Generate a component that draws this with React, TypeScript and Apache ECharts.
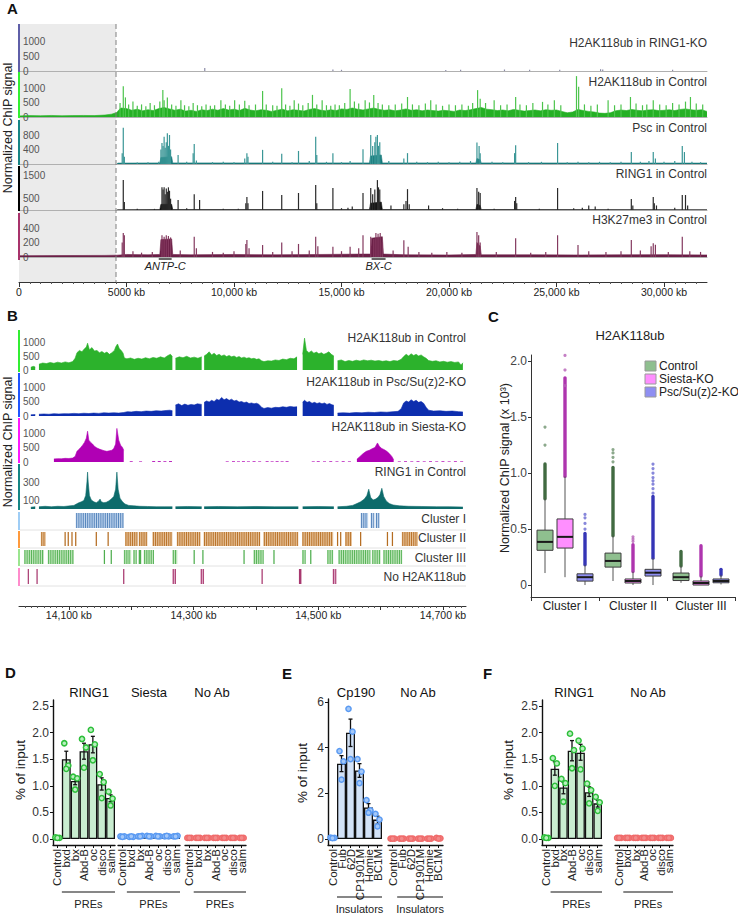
import React, { useEffect, useRef } from 'react';
import * as echarts from 'echarts';

const FONT = '"Liberation Sans", Arial, Helvetica, sans-serif';

// ================= Panel A data (kb, normalized signal) =================
const A_TICKS = [0, 5000, 10000, 15000, 20000, 25000, 30000];
const A_TICK_LABELS = ['0', '5000 kb', '10,000 kb', '15,000 kb', '20,000 kb', '25,000 kb', '30,000 kb'];
const A_TRACK_NAMES = ['H2AK118ub in RING1-KO', 'H2AK118ub in Control', 'Psc in Control', 'RING1 in Control', 'H3K27me3 in Control'];
const A_Y_TICKS = [[0, 500, 1000], [0, 500, 1000], [0, 400, 800], [0, 500, 1500], [0, 200, 400]];

const A_RING1KO_PEAKS = [[8640, 100], [14600, 50], [15000, 40], [19850, 30], [20540, 40], [22580, 50], [23750, 40], [25150, 40], [27050, 60], [27150, 50], [30400, 40]];

const A_CTRL_BG = [[0, 40], [500, 50], [1000, 45], [1500, 55], [2000, 45], [2500, 50], [3000, 55], [3500, 50], [4000, 70], [4300, 100], [4550, 160], [4650, 260], [4750, 320], [5000, 300], [5250, 240], [5500, 280], [5750, 220], [6000, 260], [6250, 230], [6500, 300], [6750, 340], [7000, 290], [7250, 240], [7500, 280], [7750, 210], [8000, 240], [8250, 200], [8500, 260], [8750, 230], [9000, 280], [9250, 240], [9500, 300], [9750, 250], [10000, 280], [10250, 230], [10500, 310], [10750, 250], [11000, 220], [11250, 260], [11500, 240], [11750, 200], [12000, 240], [12250, 280], [12500, 220], [12750, 260], [13000, 240], [13250, 210], [13500, 270], [13750, 300], [14000, 250], [14250, 220], [14500, 260], [14750, 230], [15000, 290], [15250, 270], [15500, 320], [15750, 280], [16000, 250], [16250, 290], [16500, 320], [16750, 270], [17000, 240], [17250, 260], [17500, 220], [17750, 250], [18000, 290], [18250, 240], [18500, 260], [18750, 220], [19000, 250], [19250, 230], [19500, 210], [19750, 240], [20000, 220], [20250, 200], [20500, 250], [20750, 230], [21000, 260], [21250, 300], [21500, 340], [21750, 280], [22000, 260], [22250, 230], [22500, 250], [22750, 220], [23000, 270], [23250, 240], [23500, 210], [23750, 230], [24000, 250], [24250, 220], [24500, 260], [24750, 240], [25000, 250], [25250, 200], [25500, 150], [25750, 180], [26000, 270], [26250, 230], [26500, 200], [26750, 180], [27000, 140], [27250, 130], [27500, 150], [27750, 220], [28000, 250], [28250, 230], [28500, 270], [28750, 240], [29000, 220], [29250, 250], [29500, 260], [29750, 230], [30000, 240], [30250, 260], [30500, 230], [30750, 270], [31000, 290], [31250, 260], [31500, 240], [31750, 260], [32000, 200]];
const A_CTRL_PEAKS = [[4700, 500], [4850, 1100], [4950, 700], [5100, 450], [5300, 550], [5500, 400], [5700, 450], [5900, 380], [6100, 500], [6300, 420], [6550, 550], [6690, 960], [6750, 600], [6900, 700], [7100, 450], [7300, 400], [7530, 600], [7700, 420], [7900, 380], [8100, 500], [8300, 420], [8500, 380], [8700, 450], [8900, 400], [9100, 420], [9390, 600], [9600, 450], [9800, 400], [10030, 600], [10250, 450], [10500, 580], [10700, 420], [11000, 450], [11330, 930], [11500, 450], [11800, 420], [12000, 400], [12220, 1030], [12400, 450], [12600, 400], [12800, 600], [13000, 480], [13200, 420], [13450, 500], [13650, 790], [13850, 450], [14100, 600], [14300, 420], [14500, 400], [14700, 450], [14900, 420], [15150, 500], [15400, 1000], [15600, 550], [15800, 480], [16100, 600], [16300, 520], [16500, 790], [16700, 500], [16900, 450], [17200, 420], [17500, 450], [17800, 480], [18070, 715], [18300, 450], [18600, 420], [18900, 480], [19150, 600], [19400, 450], [19700, 400], [20000, 450], [20300, 420], [20600, 450], [20900, 400], [21100, 500], [21330, 960], [21450, 650], [21700, 500], [22100, 600], [22400, 420], [22700, 450], [23100, 715], [23300, 450], [23600, 420], [23900, 500], [24350, 540], [24600, 450], [24900, 600], [25200, 420], [25930, 1460], [26030, 1080], [26300, 450], [26600, 400], [26900, 450], [27400, 600], [27700, 420], [28000, 450], [28440, 715], [28700, 480], [29000, 420], [29200, 450], [29500, 600], [29800, 450], [30100, 420], [30400, 500], [30700, 450], [31000, 550], [31230, 715], [31500, 480], [31800, 450]];

const A_PSC_BG = [[4550, 0], [4600, 25], [6550, 30], [6600, 180], [7100, 200], [7150, 30], [16300, 30], [16350, 220], [16850, 250], [16900, 30], [21250, 30], [21300, 150], [21450, 120], [21500, 30], [32000, 25]];
const A_PSC_PEAKS = [[4800, 300], [4850, 1000], [4900, 200], [5500, 40], [6000, 50], [6500, 60], [6600, 400], [6650, 580], [6700, 500], [6750, 750], [6800, 450], [6850, 600], [6900, 850], [6950, 500], [7000, 800], [7050, 400], [7400, 250], [7800, 60], [8100, 300], [8150, 550], [8250, 100], [9000, 50], [9500, 60], [10000, 50], [10500, 150], [10600, 300], [10650, 200], [11330, 390], [11800, 60], [12220, 280], [12700, 50], [13000, 360], [13500, 80], [13800, 750], [13850, 250], [14300, 60], [14600, 300], [15000, 50], [15400, 80], [16000, 410], [16360, 800], [16450, 500], [16550, 600], [16600, 750], [16670, 800], [16720, 500], [16780, 600], [17200, 80], [17900, 150], [18070, 300], [18500, 60], [19000, 50], [19500, 60], [20000, 50], [20500, 60], [21000, 80], [21300, 590], [21400, 500], [21450, 300], [22000, 60], [22500, 50], [23050, 300], [23100, 520], [23700, 50], [24300, 60], [25050, 580], [25500, 50], [26000, 60], [26500, 50], [27000, 60], [27500, 50], [28000, 60], [28480, 330], [28900, 60], [29300, 80], [29500, 330], [29600, 150], [30000, 60], [30500, 80], [30850, 500], [30950, 330], [31300, 60], [31700, 50]];

const A_RING1_BG = [[4550, 0], [4600, 15], [6550, 20], [6600, 250], [7100, 250], [7150, 20], [16300, 20], [16350, 300], [16850, 350], [16900, 20], [21250, 20], [21300, 250], [21450, 200], [21500, 20], [32000, 15]];
const A_RING1_PEAKS = [[4850, 1320], [4900, 350], [5500, 60], [6300, 50], [6650, 1000], [6700, 900], [6750, 1000], [6800, 700], [6850, 950], [6900, 800], [6950, 1000], [7000, 850], [7050, 500], [7400, 440], [7800, 80], [8150, 700], [8400, 440], [9500, 60], [10200, 60], [10550, 300], [10600, 570], [10650, 300], [11330, 840], [12220, 660], [13000, 750], [13800, 1100], [13850, 300], [14600, 970], [15000, 80], [15300, 100], [15500, 150], [16000, 750], [16360, 970], [16450, 700], [16550, 900], [16670, 1320], [16720, 1000], [16780, 900], [17300, 200], [17900, 250], [18000, 400], [18070, 920], [18150, 250], [19050, 200], [19700, 80], [20400, 60], [21300, 970], [21380, 800], [21450, 750], [22100, 60], [23050, 400], [23100, 570], [23150, 300], [24200, 60], [25050, 970], [25800, 80], [26200, 100], [26500, 200], [26800, 150], [27400, 60], [28480, 480], [28550, 200], [29500, 570], [29550, 300], [29650, 200], [30500, 100], [30850, 660], [31000, 660], [31100, 200]];

const A_K27_BG = [[0, 18], [2000, 20], [4000, 22], [4550, 25], [5000, 35], [6000, 30], [6550, 35], [6600, 240], [7100, 250], [7150, 35], [8000, 30], [10000, 35], [12000, 30], [14000, 35], [16000, 40], [16350, 40], [16400, 260], [16900, 280], [16950, 40], [18000, 30], [20000, 28], [21250, 35], [21300, 200], [21450, 150], [21500, 30], [24000, 30], [26000, 28], [28000, 30], [30000, 32], [32000, 28]];
const A_K27_PEAKS = [[4800, 200], [4850, 330], [4900, 300], [5300, 80], [5700, 60], [6200, 70], [6650, 300], [6750, 280], [6850, 300], [6950, 290], [7050, 270], [7500, 90], [8150, 280], [8250, 120], [9000, 70], [9500, 60], [10000, 80], [10550, 180], [10600, 235], [10700, 120], [11330, 165], [11800, 70], [12220, 200], [12700, 80], [13000, 180], [13500, 90], [13800, 280], [13900, 150], [14600, 140], [15000, 80], [15400, 140], [15800, 120], [16000, 300], [16360, 280], [16500, 250], [16600, 330], [16700, 320], [16800, 330], [16900, 200], [17400, 90], [17900, 230], [18100, 140], [18600, 70], [19200, 60], [19900, 70], [20600, 60], [21300, 345], [21380, 300], [21450, 200], [22200, 70], [23100, 260], [23800, 60], [24500, 70], [25050, 300], [26000, 165], [26500, 80], [27300, 70], [28000, 80], [28480, 235], [28900, 90], [29400, 150], [29500, 190], [29600, 170], [30200, 70], [30850, 280], [31200, 80], [31700, 70]];

const A_LOCI = [{ name: 'ANTP-C', from: 6500, to: 7100 }, { name: 'BX-C', from: 16400, to: 17050 }];

// ================= Panel B data =================
const B_TICKS = [14100, 14200, 14300, 14400, 14500, 14600, 14700];
const B_LABEL_TICKS = [14100, 14300, 14500, 14700];
const B_TRACK_NAMES = ['H2AK118ub in Control', 'H2AK118ub in Psc/Su(z)2-KO', 'H2AK118ub in Siesta-KO', 'RING1 in Control'];
const B_ROW_NAMES = ['Cluster I', 'Cluster II', 'Cluster III', 'No H2AK118ub'];
const B_Y_TICKS = [[0, 500, 1000], [0, 500, 1000], [0, 500, 1000], [0, 100, 300]];

const B_CTRL = [[14039, 100], [14043, 130], [14046, 110], [14047, null], [14052, 210], [14058, 250], [14064, 230], [14070, 270], [14076, 240], [14082, 280], [14088, 250], [14094, 290], [14100, 260], [14106, 300], [14110, 420], [14113, 620], [14117, 700], [14121, 650], [14125, 760], [14128, 820], [14130, 960], [14133, 720], [14137, 800], [14141, 680], [14145, 700], [14149, 620], [14153, 660], [14157, 600], [14161, 640], [14165, 560], [14169, 620], [14173, 700], [14175, 820], [14178, 930], [14181, 760], [14184, 700], [14187, 600], [14189, 430], [14193, 400], [14199, 430], [14205, 380], [14211, 420], [14217, 390], [14223, 440], [14229, 400], [14235, 450], [14241, 420], [14247, 470], [14253, 430], [14259, 520], [14263, 560], [14266, 480], [14267, null], [14271, 420], [14277, 470], [14283, 440], [14289, 490], [14295, 430], [14301, 460], [14307, 420], [14313, 470], [14314, null], [14317, 500], [14321, 560], [14325, 650], [14329, 540], [14333, 600], [14337, 520], [14341, 560], [14345, 500], [14349, 540], [14353, 480], [14357, 520], [14361, 470], [14365, 500], [14369, 450], [14373, 480], [14377, 430], [14381, 460], [14385, 420], [14389, 440], [14393, 400], [14397, 420], [14401, 380], [14405, 400], [14409, 330], [14413, 300], [14419, 330], [14425, 320], [14431, 360], [14437, 340], [14443, 390], [14449, 370], [14455, 420], [14461, 400], [14466, 470], [14469, null], [14475, 560], [14478, 1140], [14481, 700], [14485, 620], [14489, 680], [14493, 600], [14497, 640], [14501, 580], [14505, 620], [14509, 560], [14513, 600], [14517, 650], [14521, 560], [14525, 500], [14527, null], [14531, 330], [14537, 360], [14543, 300], [14549, 340], [14555, 310], [14561, 350], [14567, 320], [14573, 360], [14579, 330], [14585, 350], [14591, 320], [14597, 340], [14603, 310], [14609, 330], [14615, 300], [14621, 340], [14627, 320], [14633, 380], [14637, 480], [14641, 560], [14645, 500], [14649, 580], [14653, 520], [14657, 560], [14661, 500], [14665, 540], [14669, 470], [14673, 420], [14677, 340], [14683, 310], [14689, 330], [14695, 290], [14701, 310], [14707, 280], [14713, 300], [14719, 270], [14725, 290], [14729, 180], [14732, 260]];

const B_PSCKO = [[14039, 40], [14046, 50], [14047, null], [14052, 60], [14060, 70], [14068, 60], [14076, 80], [14084, 70], [14092, 80], [14100, 75], [14108, 90], [14116, 80], [14124, 95], [14132, 85], [14140, 100], [14148, 90], [14156, 110], [14164, 100], [14172, 110], [14180, 100], [14188, 120], [14194, 150], [14200, 140], [14208, 160], [14216, 150], [14224, 170], [14232, 160], [14240, 180], [14248, 170], [14256, 190], [14262, 200], [14266, 180], [14267, null], [14271, 380], [14276, 420], [14281, 360], [14286, 410], [14291, 370], [14296, 400], [14301, 380], [14306, 420], [14313, 400], [14314, null], [14317, 470], [14321, 520], [14325, 480], [14329, 540], [14333, 500], [14337, 580], [14341, 540], [14345, 640], [14349, 560], [14353, 600], [14357, 540], [14361, 580], [14365, 520], [14369, 540], [14373, 480], [14377, 500], [14381, 460], [14385, 480], [14389, 430], [14393, 450], [14397, 420], [14401, 440], [14405, 400], [14409, 300], [14413, 260], [14419, 290], [14425, 270], [14431, 300], [14437, 290], [14443, 320], [14449, 300], [14455, 330], [14461, 310], [14466, 320], [14469, null], [14475, 480], [14478, 540], [14482, 470], [14486, 500], [14490, 440], [14494, 470], [14498, 430], [14502, 460], [14506, 420], [14510, 450], [14514, 400], [14518, 430], [14522, 390], [14525, 370], [14527, null], [14531, 100], [14540, 110], [14550, 100], [14560, 120], [14570, 110], [14580, 130], [14590, 120], [14600, 140], [14610, 130], [14620, 150], [14628, 160], [14633, 250], [14637, 450], [14641, 520], [14645, 480], [14649, 560], [14653, 500], [14657, 540], [14661, 470], [14665, 500], [14669, 440], [14673, 300], [14677, 200], [14685, 170], [14695, 180], [14705, 160], [14715, 170], [14725, 150], [14732, 140]];

const B_SIESTA = [[14076, 110], [14082, 120], [14088, 115], [14094, 130], [14100, 125], [14106, 140], [14110, 200], [14113, 380], [14116, 450], [14119, 520], [14122, 600], [14125, 700], [14128, 850], [14130, 1100], [14132, 780], [14135, 700], [14138, 640], [14141, 560], [14145, 500], [14149, 460], [14153, 430], [14157, 400], [14161, 380], [14165, 400], [14169, 420], [14172, 480], [14175, 640], [14177, 1200], [14180, 780], [14183, 600], [14186, 520], [14188, 420], [14189, null], [14562, 100], [14567, 200], [14572, 300], [14577, 380], [14582, 420], [14587, 480], [14591, 520], [14595, 680], [14598, 560], [14602, 480], [14606, 440], [14610, 380], [14614, 300], [14618, 200], [14621, 80], [14622, null]];
const B_SIESTA_DOTS = [[14200, 25], [14215, 20], [14236, 30], [14245, 30], [14254, 25], [14263, 30], [14354, 20], [14364, 25], [14372, 20], [14380, 25], [14388, 20], [14397, 25], [14406, 20], [14418, 25], [14426, 20], [14434, 25], [14442, 20], [14450, 25], [14492, 20], [14500, 25], [14510, 20], [14520, 25], [14530, 20], [14540, 25], [14550, 20], [14630, 20], [14640, 25], [14650, 20], [14660, 25], [14670, 20], [14680, 25], [14690, 20], [14700, 25], [14710, 20], [14720, 25], [14730, 20]];

const B_RING1 = [[14039, 20], [14046, 25], [14047, null], [14052, 25], [14062, 30], [14072, 25], [14082, 30], [14092, 28], [14102, 35], [14108, 40], [14112, 55], [14116, 70], [14120, 80], [14124, 95], [14127, 150], [14129, 300], [14130, 410], [14131, 300], [14133, 150], [14136, 100], [14140, 80], [14144, 70], [14148, 90], [14150, 110], [14152, 80], [14156, 70], [14160, 75], [14164, 90], [14168, 110], [14172, 140], [14175, 220], [14177, 410], [14179, 220], [14182, 120], [14186, 80], [14190, 55], [14196, 40], [14204, 35], [14214, 30], [14226, 28], [14240, 25], [14254, 25], [14266, 25], [14267, null], [14271, 25], [14290, 28], [14313, 25], [14314, null], [14317, 25], [14340, 28], [14370, 25], [14400, 28], [14430, 25], [14468, 25], [14469, null], [14475, 25], [14500, 28], [14525, 25], [14527, null], [14531, 25], [14545, 30], [14555, 40], [14562, 60], [14568, 80], [14574, 110], [14578, 150], [14581, 220], [14584, 130], [14588, 100], [14592, 110], [14596, 130], [14599, 160], [14602, 230], [14605, 140], [14609, 90], [14614, 60], [14620, 45], [14630, 35], [14645, 30], [14665, 28], [14690, 25], [14710, 25], [14732, 22]];

const B_CLUSTER1 = [[14111, 14188], [14568, 14580], [14584, 14589], [14592, 14598]];
const B_CLUSTER2 = [[14055, 14063], [14093, 14095], [14098, 14100], [14104, 14106], [14110, 14112], [14143, 14145], [14162, 14164], [14190, 14210], [14212, 14226], [14234, 14266], [14273, 14311], [14316, 14407], [14412, 14468], [14474, 14524], [14530, 14532], [14535, 14537], [14543, 14554], [14567, 14569], [14610, 14612], [14618, 14620], [14634, 14660]];
const B_CLUSTER3 = [[14028, 14060], [14066, 14108], [14156, 14158], [14167, 14169], [14188, 14200], [14203, 14208], [14212, 14216], [14220, 14236], [14266, 14274], [14300, 14302], [14314, 14316], [14380, 14382], [14396, 14412], [14428, 14430], [14474, 14479], [14487, 14489], [14514, 14524], [14532, 14583], [14586, 14600], [14604, 14634]];
const B_NOH2A = [[14034, 14035.5], [14048, 14050], [14187, 14189], [14266, 14271], [14311, 14316], [14409, 14411], [14469, 14473], [14523, 14529]];

// ================= Panel C data (x 10^3) =================
const C_CATEGORIES = ['Cluster I', 'Cluster II', 'Cluster III'];
const C_GROUPS = ['Control', 'Siesta-KO', 'Psc/Su(z)2-KO'];
// [whisker low, Q1, median, Q3, whisker high]
const C_CONTROL = [[0.107, 0.31, 0.385, 0.49, 0.77], [0.036, 0.16, 0.215, 0.285, 0.44], [0.02, 0.04, 0.07, 0.107, 0.17]];
const C_SIESTA = [[0.07, 0.33, 0.43, 0.59, 0.97], [0.0, 0.018, 0.036, 0.054, 0.12], [0.0, 0.0, 0.018, 0.036, 0.08]];
const C_PSC = [[0.0, 0.035, 0.07, 0.10, 0.18], [0.0, 0.08, 0.11, 0.14, 0.24], [0.005, 0.02, 0.036, 0.054, 0.09]];
const C_CONTROL_OUT_RANGE = [[0.77, 1.08], [0.44, 1.05], [0.17, 0.30]];
const C_SIESTA_OUT_RANGE = [[0.97, 1.85], [0.12, 0.36], [0.08, 0.35]];
const C_PSC_OUT_RANGE = [[0.18, 0.46], [0.24, 0.79], [0.09, 0.14]];
const C_CONTROL_OUT = [[1.25, 1.41], [1.1, 1.14, 1.18, 1.21], []];
const C_SIESTA_OUT = [[1.78, 1.92, 2.05], [0.39, 0.41, 0.43], []];
const C_PSC_OUT = [[0.5, 0.55, 0.6, 0.63], [0.82, 0.86, 0.9, 0.93, 0.96, 1.0, 1.04, 1.08], []];
const C_Y_TICKS = [0, 0.5, 1.0, 1.5, 2.0];

// ================= Panels D / E / F data (% of input) =================
const PRE_CATS = ['Control', 'bxd', 'bx', 'Abd-B', 'oc', 'disco', 'salm'];
const INS_CATS = ['Control', 'Fub', '62D', 'CP1901M', 'Homie', 'BC1M'];
const PCT_TICKS = [0, 0.5, 1.0, 1.5, 2.0, 2.5];
const E_TICKS = [0, 2, 4, 6];

const D_RING1_MEAN = [0.02, 1.50, 1.09, 1.65, 1.78, 1.03, 0.77];
const D_RING1_LO = [0.02, 1.36, 1.02, 1.50, 1.62, 0.92, 0.70];
const D_RING1_HI = [0.02, 1.65, 1.15, 1.80, 1.93, 1.15, 0.83];
const D_RING1_DOTS = [[0.03, 0.02, 0.02], [1.80, 1.38, 1.32], [1.17, 1.14, 0.93], [1.88, 1.72, 1.34], [2.05, 1.78, 1.48], [1.22, 1.07, 0.77], [0.89, 0.76, 0.63]];
const D_SIESTA_MEAN = [0.04, 0.04, 0.05, 0.05, 0.05, 0.05, 0.05];
const D_SIESTA_DOTS = [[0.05, 0.05, 0.04], [0.04, 0.04, 0.05], [0.05, 0.06, 0.05], [0.06, 0.05, 0.05], [0.06, 0.05, 0.05], [0.05, 0.05, 0.06], [0.05, 0.06, 0.05]];
const D_NOAB_MEAN = [0.01, 0.01, 0.01, 0.01, 0.01, 0.01, 0.01];
const D_NOAB_DOTS = [[0.02, 0.02, 0.02], [0.02, 0.02, 0.02], [0.02, 0.02, 0.02], [0.02, 0.02, 0.02], [0.02, 0.02, 0.02], [0.02, 0.02, 0.02], [0.02, 0.02, 0.02]];

const E_CP190_MEAN = [0.05, 3.30, 4.65, 3.00, 1.38, 0.85];
const E_CP190_LO = [0.05, 2.95, 4.05, 2.70, 1.20, 0.65];
const E_CP190_HI = [0.05, 3.65, 5.25, 3.30, 1.55, 1.00];
const E_CP190_DOTS = [[0.06, 0.05, 0.04], [3.85, 3.40, 2.60], [5.70, 4.70, 3.50], [3.50, 2.95, 2.45], [1.70, 1.25, 1.15], [1.10, 0.85, 0.55]];
const E_NOAB_MEAN = [0.02, 0.02, 0.02, 0.02, 0.02, 0.02];
const E_NOAB_DOTS = [[0.02, 0.02, 0.02], [0.02, 0.02, 0.02], [0.02, 0.02, 0.02], [0.02, 0.02, 0.02], [0.02, 0.02, 0.02], [0.05, 0.03, 0.02]];

const F_RING1_MEAN = [0.02, 1.32, 0.97, 1.66, 1.62, 0.88, 0.67];
const F_RING1_LO = [0.02, 1.20, 0.85, 1.47, 1.48, 0.80, 0.60];
const F_RING1_HI = [0.02, 1.45, 1.07, 1.85, 1.78, 0.98, 0.73];
const F_RING1_DOTS = [[0.03, 0.02, 0.02], [1.52, 1.42, 1.00], [1.13, 1.05, 0.70], [1.98, 1.67, 1.33], [1.85, 1.70, 1.31], [1.04, 0.92, 0.67], [0.79, 0.69, 0.53]];
const F_NOAB_MEAN = [0.01, 0.01, 0.01, 0.01, 0.01, 0.01, 0.01];
const F_NOAB_DOTS = [[0.02, 0.02, 0.02], [0.02, 0.02, 0.02], [0.02, 0.02, 0.02], [0.02, 0.02, 0.02], [0.02, 0.02, 0.02], [0.02, 0.02, 0.02], [0.02, 0.02, 0.02]];

// ================= helpers =================
function txt(x: number, y: number, text: string, o: any = {}) {
  const align = o.align || 'left';
  return {
    type: 'text', x, y, z: 50, rotation: o.rotation || 0,
    style: {
      text, fontFamily: FONT, fontSize: o.size || 12, fontWeight: o.weight || 'normal', fontStyle: o.italic ? 'italic' : 'normal',
      fill: o.color || '#222', align, verticalAlign: 'middle', textAlign: align, textVerticalAlign: 'middle',
    },
  };
}
function rect(x: number, y: number, w: number, h: number, fill: string, z = 40, stroke?: string) {
  return { type: 'rect', z, shape: { x, y, width: w, height: h }, style: { fill, stroke: stroke || null, lineWidth: stroke ? 1 : 0 } };
}
function hline(x1: number, x2: number, y: number, color: string, w = 1, dash?: number[], z = 40) {
  return { type: 'line', z, shape: { x1, y1: y, x2, y2: y }, style: { stroke: color, lineWidth: w, lineDash: dash || null } };
}
function vline(x: number, y1: number, y2: number, color: string, w = 1, dash?: number[], z = 40) {
  return { type: 'line', z, shape: { x1: x, y1, x2: x, y2 }, style: { stroke: color, lineWidth: w, lineDash: dash || null } };
}
const plain = (v: number) => String(v);

function buildOption() {
  const grid: any[] = []; const xAxis: any[] = []; const yAxis: any[] = []; const series: any[] = []; const graphic: any[] = [];
  const addGrid = (left: number, top: number, width: number, height: number) => { grid.push({ left, top, width, height }); return grid.length - 1; };
  const addX = (o: any) => { xAxis.push(o); return xAxis.length - 1; };
  const addY = (o: any) => { yAxis.push(o); return yAxis.length - 1; };
  const hiddenY = (gi: number, min = 0, max = 1) => addY({ gridIndex: gi, type: 'value', min, max, show: false });

  // ---------- Panel A ----------
  const AL = 19, AW = 688, AMAX = 32000;
  const A_LAYOUT = [
    { top: 24, base: 71, max: 1567, barBot: 72, bar: '#5f5fa8', labelY: 43 },
    { top: 72, base: 117, max: 1607, barBot: 118, bar: '#33f033', labelY: 82 },
    { top: 120, base: 164, max: 1214, barBot: 165, bar: '#168585', labelY: 128 },
    { top: 166, base: 210, max: 1941, barBot: 211, bar: '#000000', labelY: 174 },
    { top: 213, base: 257, max: 607, barBot: 260, bar: '#a8336b', labelY: 220 },
  ];
  const A_DATA = [
    { bg: null, peaks: A_RING1KO_PEAKS, c: '#9a9ab0', pc: '#8c8ca8' },
    { bg: A_CTRL_BG, peaks: A_CTRL_PEAKS, c: '#25b025', pc: '#4cc44c' },
    { bg: A_PSC_BG, peaks: A_PSC_PEAKS, c: '#16797a', pc: '#3a9696' },
    { bg: A_RING1_BG, peaks: A_RING1_PEAKS, c: '#111111', pc: '#2a2a2a' },
    { bg: A_K27_BG, peaks: A_K27_PEAKS, c: '#6b1f47', pc: '#84395f' },
  ];
  graphic.push(rect(AL, 24, 116 - AL, 282 - 24, '#ebebeb', 0));
  graphic.push(vline(116, 24, 282, '#808080', 1, [5, 3], 45));
  A_LAYOUT.forEach((L, i) => {
    const gi = addGrid(AL, L.top, AW, L.base - L.top);
    const xi = addX({ gridIndex: gi, type: 'value', min: 0, max: AMAX, axisLine: { show: true, lineStyle: { color: '#b0b0b0', width: 1 } }, axisTick: { show: false }, axisLabel: { show: false }, splitLine: { show: false } });
    const yi = addY({ gridIndex: gi, type: 'value', min: 0, max: L.max, axisLine: { show: false }, axisTick: { show: false }, splitLine: { show: false }, axisLabel: { inside: true, margin: 4, fontSize: 10, color: '#555', fontFamily: FONT, customValues: A_Y_TICKS[i], formatter: plain } });
    const D = A_DATA[i];
    if (D.bg) series.push({ type: 'line', xAxisIndex: xi, yAxisIndex: yi, data: D.bg, symbol: 'none', showSymbol: false, lineStyle: { width: 0.6, color: D.c }, areaStyle: { color: D.c, opacity: 1 }, silent: true, z: 3 });
    series.push({ type: 'bar', xAxisIndex: xi, yAxisIndex: yi, data: D.peaks, barWidth: 1.2, itemStyle: { color: D.pc }, silent: true, z: 4 });
    graphic.push(rect(18, L.top, 2, L.barBot - L.top, L.bar, 45));
    graphic.push(txt(707, L.labelY, A_TRACK_NAMES[i], { align: 'right', size: 12, color: '#333' }));
  });
  {
    const gi = addGrid(AL, 262, AW, 20);
    addX({ gridIndex: gi, type: 'value', position: 'bottom', min: 0, max: AMAX, axisLine: { show: true, onZero: false, lineStyle: { color: '#333', width: 1 } }, axisTick: { show: true, length: 5, customValues: A_TICKS, lineStyle: { color: '#333' } }, axisLabel: { show: true, fontSize: 10.5, margin: 4, color: '#222', fontFamily: FONT, customValues: A_TICKS, formatter: (v: number) => A_TICK_LABELS[A_TICKS.indexOf(v)] ?? '' }, splitLine: { show: false } });
    const minor: number[] = []; for (let v = 500; v < AMAX; v += 500) if (v % 5000 !== 0) minor.push(v);
    addX({ gridIndex: gi, type: 'value', position: 'bottom', min: 0, max: AMAX, axisLine: { show: false, onZero: false }, axisTick: { show: true, length: 2, customValues: minor, lineStyle: { color: '#555' } }, axisLabel: { show: false }, splitLine: { show: false } });
    hiddenY(gi);
  }
  A_LOCI.forEach((l) => {
    const x1 = AL + (l.from / AMAX) * AW, x2 = AL + (l.to / AMAX) * AW;
    graphic.push(hline(x1, x2, 259, '#111', 1.3));
    graphic.push(txt((x1 + x2) / 2, 266, l.name, { align: 'center', size: 11, italic: true, color: '#222' }));
  });
  graphic.push(txt(7, 8, 'A', { weight: 'bold', size: 15, color: '#111' }));
  graphic.push(txt(8, 128, 'Normalized ChIP signal', { align: 'center', size: 12.5, rotation: Math.PI / 2, color: '#222' }));

  // ---------- Panel B ----------
  const BL = 19, BW = 447, BMIN = 14020, BMAX = 14737;
  const B_LAYOUT = [
    { top: 330, base: 370, max: 1430, barBot: 372, bar: '#33ee33', labelY: 338, c: '#2cb22c' },
    { top: 373, base: 416, max: 1483, barBot: 417, bar: '#1f55ff', labelY: 382, c: '#0d2eae' },
    { top: 418, base: 462, max: 1571, barBot: 463, bar: '#ff19ff', labelY: 427, c: '#b000b4' },
    { top: 464, base: 509, max: 500, barBot: 510, bar: '#148585', labelY: 472, c: '#0d6b6b' },
  ];
  const B_DATA = [B_CTRL, B_PSCKO, B_SIESTA, B_RING1];
  B_LAYOUT.forEach((L, i) => {
    const gi = addGrid(BL, L.top, BW, L.base - L.top);
    const xi = addX({ gridIndex: gi, type: 'value', min: BMIN, max: BMAX, show: false });
    const yi = addY({ gridIndex: gi, type: 'value', min: 0, max: L.max, axisLine: { show: false }, axisTick: { show: false }, splitLine: { show: false }, axisLabel: { inside: true, margin: 4, fontSize: 10, color: '#555', fontFamily: FONT, customValues: B_Y_TICKS[i], formatter: plain } });
    series.push({ type: 'line', xAxisIndex: xi, yAxisIndex: yi, data: B_DATA[i], symbol: 'none', showSymbol: false, connectNulls: false, lineStyle: { width: 0.6, color: L.c }, areaStyle: { color: L.c, opacity: 1 }, silent: true, z: 3 });
    if (i === 2) series.push({ type: 'bar', xAxisIndex: xi, yAxisIndex: yi, data: B_SIESTA_DOTS, barWidth: 3, itemStyle: { color: L.c }, silent: true, z: 3 });
    graphic.push(rect(18, L.top, 2, L.barBot - L.top, L.bar, 45));
    graphic.push(txt(466, L.labelY, B_TRACK_NAMES[i], { align: 'right', size: 12, color: '#333' }));
  });
  const B_ROWS = [
    { top: 512, bot: 530, bar: '#9fcdf5', dark: '#4f7fb8', light: '#bcd2ec', labelY: 519, data: B_CLUSTER1 },
    { top: 531, bot: 548, bar: '#ff9a3c', dark: '#b56d22', light: '#e6c096', labelY: 538, data: B_CLUSTER2 },
    { top: 549, bot: 566, bar: '#9be58f', dark: '#4fae4f', light: '#bfe6bb', labelY: 558, data: B_CLUSTER3 },
    { top: 568, bot: 586, bar: '#ff8ccc', dark: '#a8386f', light: '#dca3c1', labelY: 577, data: B_NOH2A },
  ];
  B_ROWS.forEach((R, i) => {
    const gi = addGrid(BL, R.top, BW, R.bot - R.top);
    const xi = addX({ gridIndex: gi, type: 'value', min: BMIN, max: BMAX, show: false });
    const yi = hiddenY(gi);
    series.push({
      type: 'custom', xAxisIndex: xi, yAxisIndex: yi, data: R.data, silent: true, z: 3,
      renderItem: (params: any, api: any) => {
        const cs = params.coordSys;
        const a = api.coord([api.value(0), 0]);
        const b = api.coord([api.value(1), 0]);
        const x0 = a[0]; const w = Math.max(1.2, b[0] - a[0]);
        const y = cs.y + 1; const h = cs.height - 3;
        const children: any[] = [{ type: 'rect', shape: { x: x0, y, width: w, height: h }, style: { fill: w > 3 ? R.light : R.dark } }];
        if (w > 3) for (let xx = x0 + 0.5; xx < x0 + w - 0.4; xx += 2.2) children.push({ type: 'rect', shape: { x: xx, y, width: 0.9, height: h }, style: { fill: R.dark } });
        return { type: 'group', children };
      },
    });
    graphic.push(rect(18, R.top, 2, R.bot - R.top, R.bar, 45));
    graphic.push(hline(20, 466, R.bot, '#e2e2e2', 1, undefined, 1));
    graphic.push(txt(466, R.labelY, B_ROW_NAMES[i], { align: 'right', size: 12, color: '#333' }));
  });
  {
    const gi = addGrid(BL, 586, BW, 20);
    addX({ gridIndex: gi, type: 'value', position: 'bottom', min: BMIN, max: BMAX, axisLine: { show: true, onZero: false, lineStyle: { color: '#333', width: 1 } }, axisTick: { show: true, length: 4, customValues: B_TICKS, lineStyle: { color: '#333' } }, axisLabel: { show: true, fontSize: 10.5, margin: 3, color: '#222', fontFamily: FONT, customValues: B_LABEL_TICKS, formatter: (v: number) => v.toLocaleString('en-US') + ' kb' }, splitLine: { show: false } });
    const minor: number[] = []; for (let v = 14030; v < BMAX; v += 10) if (v % 100 !== 0) minor.push(v);
    addX({ gridIndex: gi, type: 'value', position: 'bottom', min: BMIN, max: BMAX, axisLine: { show: false, onZero: false }, axisTick: { show: true, length: 2, customValues: minor, lineStyle: { color: '#555' } }, axisLabel: { show: false }, splitLine: { show: false } });
    hiddenY(gi);
  }
  graphic.push(txt(7, 315, 'B', { weight: 'bold', size: 15, color: '#111' }));
  graphic.push(txt(8, 442, 'Normalized ChIP signal', { align: 'center', size: 12.5, rotation: Math.PI / 2, color: '#222' }));

  // ---------- Panel C ----------
  {
    const gi = addGrid(531, 355, 204, 242);
    const xi = addX({ gridIndex: gi, type: 'category', data: C_CATEGORIES, boundaryGap: true, axisLine: { show: true, onZero: false, lineStyle: { color: '#333', width: 1 } }, axisTick: { show: true, length: 4, lineStyle: { color: '#333' } }, axisLabel: { fontSize: 12, margin: 3, color: '#222', fontFamily: FONT } });
    const yi = addY({ gridIndex: gi, type: 'value', min: -0.107, max: 2.054, axisLine: { show: true, onZero: false, lineStyle: { color: '#333', width: 1 } }, axisTick: { show: true, length: 3, customValues: C_Y_TICKS, lineStyle: { color: '#333' } }, splitLine: { show: false }, axisLabel: { fontSize: 12, margin: 4, color: '#444', fontFamily: FONT, customValues: C_Y_TICKS, formatter: (v: number) => (v === 0 ? '0' : v.toFixed(1)) } });
    const groups = [
      { box: C_CONTROL, range: C_CONTROL_OUT_RANGE, pts: C_CONTROL_OUT, off: -20, fill: '#8fbf8f', out: '#2c5a2c', sparse: '#6f946f' },
      { box: C_SIESTA, range: C_SIESTA_OUT_RANGE, pts: C_SIESTA_OUT, off: 0, fill: '#ff8fff', out: '#a51fa5', sparse: '#b760b7' },
      { box: C_PSC, range: C_PSC_OUT_RANGE, pts: C_PSC_OUT, off: 20, fill: '#8f8ff2', out: '#1f1fae', sparse: '#6a6ad2' },
    ];
    groups.forEach((g) => {
      series.push({
        type: 'custom', xAxisIndex: xi, yAxisIndex: yi, silent: true, z: 3,
        data: g.range.map((r, ci) => [ci, r[0], r[1]]),
        renderItem: (params: any, api: any) => {
          const a = api.coord([api.value(0), api.value(1)]);
          const b = api.coord([api.value(0), api.value(2)]);
          const x = a[0] + g.off;
          return { type: 'line', shape: { x1: x, y1: a[1], x2: x, y2: b[1] }, style: { stroke: g.out, lineWidth: 3.4, lineCap: 'round', opacity: 0.9 } };
        },
      });
      series.push({
        type: 'custom', xAxisIndex: xi, yAxisIndex: yi, silent: true, z: 3,
        data: g.pts.flatMap((arr, ci) => arr.map((v) => [ci, v])),
        renderItem: (params: any, api: any) => {
          const p = api.coord([api.value(0), api.value(1)]);
          return { type: 'circle', shape: { cx: p[0] + g.off, cy: p[1], r: 1.6 }, style: { fill: g.sparse, opacity: 0.8 } };
        },
      });
      series.push({
        type: 'custom', xAxisIndex: xi, yAxisIndex: yi, silent: true, z: 4,
        data: g.box.map((b, ci) => [ci, ...b]),
        renderItem: (params: any, api: any) => {
          const c = api.value(0);
          const lo = api.coord([c, api.value(1)]);
          const q1 = api.coord([c, api.value(2)]);
          const md = api.coord([c, api.value(3)]);
          const q3 = api.coord([c, api.value(4)]);
          const hi = api.coord([c, api.value(5)]);
          const x = lo[0] + g.off; const w = 16;
          return {
            type: 'group', children: [
              { type: 'line', shape: { x1: x, y1: hi[1], x2: x, y2: q3[1] }, style: { stroke: '#555', lineWidth: 1 } },
              { type: 'line', shape: { x1: x, y1: q1[1], x2: x, y2: lo[1] }, style: { stroke: '#555', lineWidth: 1 } },
              { type: 'rect', shape: { x: x - w / 2, y: q3[1], width: w, height: Math.max(2, q1[1] - q3[1]) }, style: { fill: g.fill, stroke: '#3d3d3d', lineWidth: 1 } },
              { type: 'line', shape: { x1: x - w / 2, y1: md[1], x2: x + w / 2, y2: md[1] }, style: { stroke: '#1a1a1a', lineWidth: 2 } },
            ],
          };
        },
      });
    });
    graphic.push(txt(488, 316, 'C', { weight: 'bold', size: 15, color: '#111' }));
    graphic.push(txt(630, 335, 'H2AK118ub', { align: 'center', size: 13, color: '#222' }));
    graphic.push(txt(505, 468, 'Normalized ChIP signal (x 10³)', { align: 'center', size: 12.5, rotation: Math.PI / 2, color: '#222' }));
    const legFill = ['#8fbf8f', '#ff8fff', '#8f8ff2'];
    C_GROUPS.forEach((n, i) => {
      graphic.push(rect(645, 361 + i * 13, 11, 10, legFill[i], 45, '#9a9a9a'));
      graphic.push(txt(659, 366 + i * 13, n, { size: 12, color: '#222' }));
    });
  }

  // ---------- Panels D / E / F ----------
  const GREEN = { stroke: '#2dbf3a', fill: '#b9efbf' };
  const BLUE = { stroke: '#5a9af2', fill: '#a4c8f8' };
  const RED = { stroke: '#f06b6b', fill: '#f28a8a' };
  const facets = [
    { left: 53, top: 700, width: 62, cats: PRE_CATS, mean: D_RING1_MEAN, lo: D_RING1_LO, hi: D_RING1_HI, dots: D_RING1_DOTS, fill: '#c9edd0', dc: GREEN, yMin: -0.113, yMax: 2.613, ticks: PCT_TICKS, dec: 1, showY: true, title: 'RING1', tx: 89, br: 'PREs', brY: 892 },
    { left: 118, top: 700, width: 62, cats: PRE_CATS, mean: D_SIESTA_MEAN, lo: null, hi: null, dots: D_SIESTA_DOTS, fill: '#cfe0f7', dc: BLUE, yMin: -0.113, yMax: 2.613, ticks: PCT_TICKS, dec: 1, showY: false, title: 'Siesta', tx: 149, br: 'PREs', brY: 892 },
    { left: 185, top: 700, width: 61, cats: PRE_CATS, mean: D_NOAB_MEAN, lo: null, hi: null, dots: D_NOAB_DOTS, fill: '#f8d0d0', dc: RED, yMin: -0.113, yMax: 2.613, ticks: PCT_TICKS, dec: 1, showY: false, title: 'No Ab', tx: 212, br: 'PREs', brY: 892 },
    { left: 328, top: 699, width: 54, cats: INS_CATS, mean: E_CP190_MEAN, lo: E_CP190_LO, hi: E_CP190_HI, dots: E_CP190_DOTS, fill: '#d3e3f8', dc: BLUE, yMin: -0.263, yMax: 6.13, ticks: E_TICKS, dec: 0, showY: true, title: 'Cp190', tx: 356, br: 'Insulators', brY: 897 },
    { left: 388, top: 699, width: 55, cats: INS_CATS, mean: E_NOAB_MEAN, lo: null, hi: null, dots: E_NOAB_DOTS, fill: '#f8d0d0', dc: RED, yMin: -0.263, yMax: 6.13, ticks: E_TICKS, dec: 0, showY: false, title: 'No Ab', tx: 418, br: 'Insulators', brY: 897 },
    { left: 542, top: 700, width: 60, cats: PRE_CATS, mean: F_RING1_MEAN, lo: F_RING1_LO, hi: F_RING1_HI, dots: F_RING1_DOTS, fill: '#c9edd0', dc: GREEN, yMin: -0.113, yMax: 2.613, ticks: PCT_TICKS, dec: 1, showY: true, title: 'RING1', tx: 574, br: 'PREs', brY: 892 },
    { left: 615, top: 700, width: 58, cats: PRE_CATS, mean: F_NOAB_MEAN, lo: null, hi: null, dots: F_NOAB_DOTS, fill: '#f8d0d0', dc: RED, yMin: -0.113, yMax: 2.613, ticks: PCT_TICKS, dec: 1, showY: false, title: 'No Ab', tx: 648, br: 'PREs', brY: 892 },
  ];
  facets.forEach((f) => {
    const gi = addGrid(f.left, f.top, f.width, 845 - f.top);
    const xi = addX({ gridIndex: gi, type: 'category', data: f.cats, boundaryGap: true, axisLine: { show: true, onZero: false, lineStyle: { color: '#111', width: 1.4 } }, axisTick: { show: true, alignWithLabel: true, length: 3, lineStyle: { color: '#111' } }, axisLabel: { rotate: 90, interval: 0, fontSize: 11.5, margin: 4, color: '#222', fontFamily: FONT } });
    const yi = addY(f.showY
      ? { gridIndex: gi, type: 'value', min: f.yMin, max: f.yMax, axisLine: { show: true, onZero: false, lineStyle: { color: '#111', width: 1.4 } }, axisTick: { show: true, length: 3, customValues: f.ticks, lineStyle: { color: '#111' } }, splitLine: { show: false }, axisLabel: { fontSize: 12, margin: 4, color: '#333', fontFamily: FONT, customValues: f.ticks, formatter: (v: number) => v.toFixed(f.dec) } }
      : { gridIndex: gi, type: 'value', min: f.yMin, max: f.yMax, show: false });
    series.push({ type: 'bar', xAxisIndex: xi, yAxisIndex: yi, data: f.mean, barWidth: '100%', itemStyle: { color: f.fill, borderColor: '#111', borderWidth: 1.3 }, silent: true, z: 3 });
    if (f.lo && f.hi) {
      series.push({
        type: 'custom', xAxisIndex: xi, yAxisIndex: yi, silent: true, z: 4,
        data: f.lo.map((l: number, ci: number) => [ci, l, f.hi[ci]]),
        renderItem: (params: any, api: any) => {
          if (api.value(2) - api.value(1) < 0.001) return null;
          const a = api.coord([api.value(0), api.value(1)]);
          const b = api.coord([api.value(0), api.value(2)]);
          const x = a[0];
          return {
            type: 'group', children: [
              { type: 'line', shape: { x1: x, y1: a[1], x2: x, y2: b[1] }, style: { stroke: '#111', lineWidth: 1.3 } },
              { type: 'line', shape: { x1: x - 2, y1: a[1], x2: x + 2, y2: a[1] }, style: { stroke: '#111', lineWidth: 1.3 } },
              { type: 'line', shape: { x1: x - 2, y1: b[1], x2: x + 2, y2: b[1] }, style: { stroke: '#111', lineWidth: 1.3 } },
            ],
          };
        },
      });
    }
    const dxs = [-2, 2, 0];
    series.push({
      type: 'custom', xAxisIndex: xi, yAxisIndex: yi, silent: true, z: 5,
      data: f.dots.flatMap((arr: number[], ci: number) => arr.map((v, j) => [ci, v, j])),
      renderItem: (params: any, api: any) => {
        const p = api.coord([api.value(0), api.value(1)]);
        return { type: 'circle', shape: { cx: p[0] + dxs[api.value(2)], cy: p[1], r: 2.6 }, style: { fill: f.dc.fill, stroke: f.dc.stroke, lineWidth: 1.5 } };
      },
    });
    graphic.push(txt(f.tx, 692, f.title, { align: 'center', size: 13, color: '#111' }));
    const bx1 = f.left + f.width / f.cats.length, bx2 = f.left + f.width;
    graphic.push(hline(bx1, bx2, f.brY, '#111', 1.2));
    graphic.push(txt((bx1 + bx2) / 2, f.brY + 12, f.br, { align: 'center', size: 11, color: '#222' }));
  });
  graphic.push(txt(5, 672, 'D', { weight: 'bold', size: 15, color: '#111' }));
  graphic.push(txt(282, 673, 'E', { weight: 'bold', size: 15, color: '#111' }));
  graphic.push(txt(483, 673, 'F', { weight: 'bold', size: 15, color: '#111' }));
  graphic.push(txt(20, 770, '% of input', { align: 'center', size: 13.5, rotation: Math.PI / 2, color: '#111' }));
  graphic.push(txt(302, 773, '% of input', { align: 'center', size: 13.5, rotation: Math.PI / 2, color: '#111' }));
  graphic.push(txt(508, 770, '% of input', { align: 'center', size: 13.5, rotation: Math.PI / 2, color: '#111' }));

  return { animation: false, backgroundColor: '#ffffff', textStyle: { fontFamily: FONT }, grid, xAxis, yAxis, series, graphic: { elements: graphic } };
}

export default function App() {
  const ref = useRef<HTMLDivElement>(null);
  useEffect(() => {
    const chart = echarts.init(ref.current as HTMLDivElement, null, { renderer: 'svg', width: 738, height: 916 });
    chart.setOption(buildOption() as any);
    return () => chart.dispose();
  }, []);
  return <div ref={ref} style={{ position: 'absolute', left: 0, top: 0, width: 738, height: 916, background: '#fff' }} />;
}
